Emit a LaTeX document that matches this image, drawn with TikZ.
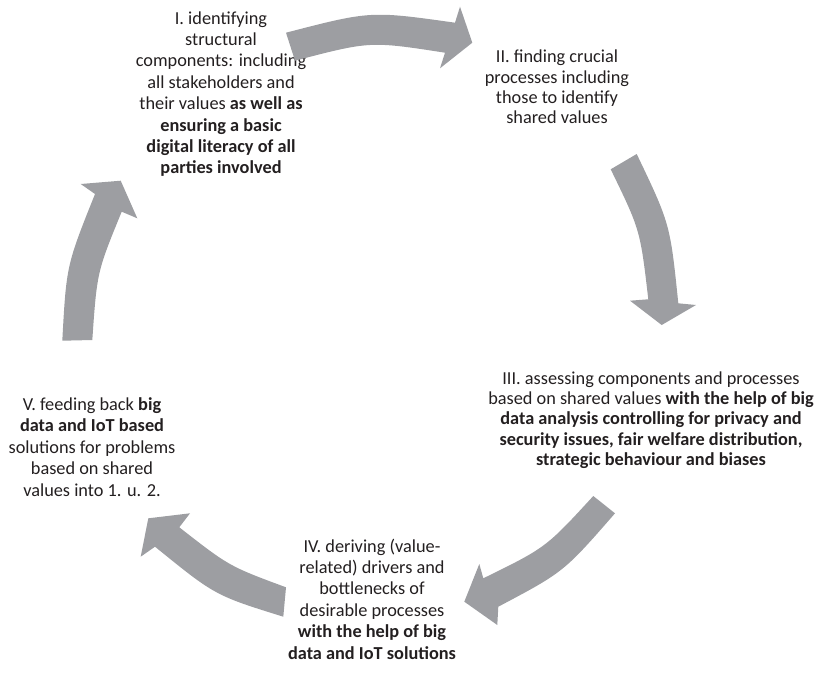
\documentclass[tikz,border=0pt]{standalone}
\usepackage{fontspec}
\setmainfont{Carlito}
\definecolor{arrowgray}{RGB}{157,158,162}
\definecolor{textdark}{RGB}{35,31,32}
\begin{document}
\begin{tikzpicture}[x=1pt,y=-1pt,
  lbl/.style={align=center, text=textdark, font=\fontsize{18.3}{21.4}\selectfont, inner sep=0pt},
  blockarrow/.style={fill=arrowgray, draw=none}]
\useasboundingbox (0,0) rectangle (819,680);

% text nodes
\node[lbl] (n1) at (221,94) {I. identifying\\structural\\components: including\\all stakeholders and\\their values \textbf{as well as}\\\textbf{ensuring a basic}\\\textbf{digital literacy of all}\\\textbf{parties involved}};
\node[lbl, font=\fontsize{18.3}{20.3}\selectfont] (n2) at (557,87) {II. finding crucial\\processes including\\those to identify\\shared values};
\node[lbl, font=\fontsize{18.3}{20.3}\selectfont] (n3) at (651,420) {III. assessing components and processes\\based on shared values \textbf{with the help of big}\\\textbf{data analysis controlling for privacy and}\\\textbf{security issues, fair welfare distribution,}\\\textbf{strategic behaviour and biases}};
\node[lbl] (n4) at (372,599) {IV. deriving (value-\\related) drivers and\\bottlenecks of\\desirable processes\\\textbf{with the help of big}\\\textbf{data and IoT solutions}};
\node[lbl] (n5) at (92,447) {V. feeding back \textbf{big}\\\textbf{data and IoT based}\\solutions for problems\\based on shared\\values into 1. u. 2.};

% curved block arrows
% I -> II
\fill[blockarrow] (286,32.7) .. controls (370.5,10.8) .. (455,22.7) -- (460,6.7) -- (472.3,42.7)
  -- (440,68.3) -- (445,52.7) .. controls (370,41.1) .. (295,60.7) -- cycle;
% II -> III
\fill[blockarrow] (636.7,154) .. controls (670.1,223.8) .. (678.3,303.3) -- (696,305) -- (661.7,325)
  -- (630,300.7) -- (648.3,299.3) .. controls (640.2,229.9) .. (610.7,169.3) -- cycle;
% III -> IV
\fill[blockarrow] (615,513.3) .. controls (563.8,572) .. (498.3,606.7) -- (497.3,625) -- (464.3,601.7)
  -- (479.3,564) -- (483.3,578.3) .. controls (545.9,547.6) .. (593.3,496) -- cycle;
% IV -> V
\fill[blockarrow] (286,587.3) .. controls (229.1,566.2) .. (179.3,527.3) -- (190,513.3) -- (148.3,518.3)
  -- (140.7,556.7) -- (155,546.7) .. controls (214.95,595.4) .. (283.3,616.7) -- cycle;
% V -> I
\fill[blockarrow] (62.3,340.7) .. controls (66.4,265.5) .. (95,194) -- (80.7,184) -- (120.7,180.7)
  -- (137.3,218.3) -- (121.7,211.7) .. controls (97,272) .. (92.3,340) -- cycle;
\end{tikzpicture}
\end{document}
